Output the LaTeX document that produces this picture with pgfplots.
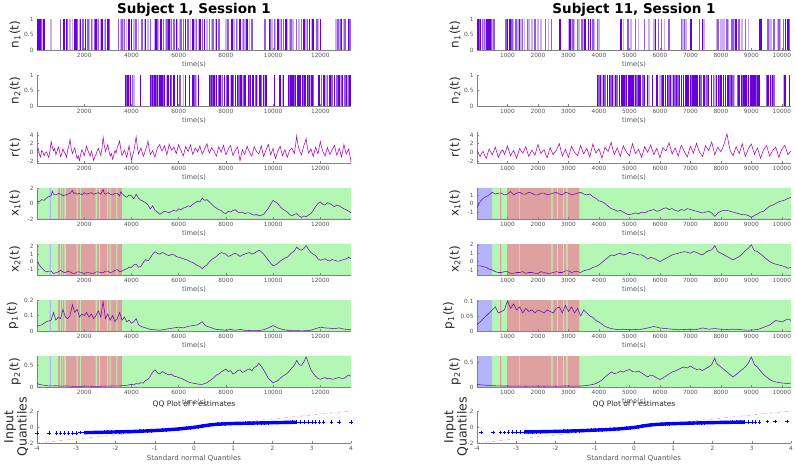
\documentclass[border=0pt]{standalone}
\usepackage{pgfplots}
\pgfplotsset{compat=1.18}
\usepackage{fontspec}
\setmainfont{DejaVu Sans}
\definecolor{bggreen}{RGB}{180,247,180}
\definecolor{bgred}{RGB}{223,160,160}
\definecolor{bgblue}{RGB}{180,180,250}
\definecolor{linepurple}{RGB}{105,15,175}
\definecolor{ndark}{RGB}{105,0,215}
\definecolor{nmid}{RGB}{150,90,225}
\definecolor{nlight}{RGB}{205,175,240}
\definecolor{rcol}{RGB}{175,0,185}
\definecolor{tickgray}{RGB}{85,85,85}
\definecolor{axgray}{RGB}{130,130,130}
\definecolor{labgray}{RGB}{40,40,40}
\pgfplotsset{
  base/.style={scale only axis, width=314pt, height=31pt, anchor=north west},
  shadeax/.style={base, hide axis, ymin=0, ymax=1},
  panel/.style={base, axis lines*=left, axis line style={draw=axgray,-},
    tick style={draw=axgray, line width=0.4pt}, tick align=inside, major tick length=2pt,
    tick label style={font=\fontsize{5.8}{7}\selectfont, text=tickgray},
    /pgf/number format/assume math mode=true, scaled ticks=false,
    xlabel={time(s)},
    xlabel style={font=\fontsize{6.7}{7}\selectfont, text=tickgray, at={(axis description cs:0.5,-0.27)}, anchor=north},
    ylabel style={font=\fontsize{12}{13}\selectfont, text=labgray, at={(axis description cs:-0.070,0.5)}, anchor=center},
    title style={font=\fontsize{13.5}{14}\selectfont\bfseries, at={(axis description cs:0.5,1)}, anchor=base, yshift=-1pt},
    every axis plot/.append style={line width=0.55pt}},
  L/.style={xmin=0, xmax=13300, xtick={2000,4000,6000,8000,10000,12000}, xticklabels={2000,4000,6000,8000,10000,12000}},
  R/.style={xmin=0, xmax=10300, xtick={1000,2000,3000,4000,5000,6000,7000,8000,9000,10000}, xticklabels={1000,2000,3000,4000,5000,6000,7000,8000,9000,10000}},
  nbar/.style={ycomb, line width=1.5pt},
  qq/.style={panel, height=32pt, xmin=-4, xmax=4, ymin=-2, ymax=2, xtick={-4,-3,-2,-1,0,1,2,3,4}, xticklabels={-4,-3,-2,-1,0,1,2,3,4}, ytick={-2,0,2}, yticklabels={-2,0,2}, xlabel={Standard normal Quantiles}, xlabel style={font=\fontsize{7}{8}\selectfont}, ylabel={Input\\Quantiles}, ylabel style={align=center, font=\fontsize{12.5}{11}\selectfont, at={(axis description cs:-0.066,0.5)}}, title={QQ Plot of r estimates}, title style={font=\fontsize{7.5}{8}\selectfont\mdseries, text=labgray, yshift=-0.5pt}},
}
\newcommand{\shadeL}[1]{%
\begin{axis}[shadeax, at={#1}, xmin=0, xmax=13300]
\addplot[fill=bggreen, draw=none, const plot] coordinates {(0,1)(13300,1)} \closedcycle;
\addplot[fill=bgred, draw=none, const plot] coordinates {(0,0)(900,1)(970,0)(1010,1)(1060,0)(1100,1)(1160,0)(1220,1)(1680,0)(1720,1)(1830,0)(1870,1)(2480,0)(2540,1)(2620,0)(2660,1)(2960,0)(3000,1)(3080,0)(3120,1)(3360,0)(3400,1)(3600,0)(13300,0)} \closedcycle;
\addplot[fill=bgblue, draw=none, const plot] coordinates {(0,0)(540,1)(590,0)(13300,0)} \closedcycle;
\end{axis}}
\newcommand{\shadeR}[1]{%
\begin{axis}[shadeax, at={#1}, xmin=0, xmax=10300]
\addplot[fill=bggreen, draw=none, const plot] coordinates {(0,1)(10300,1)} \closedcycle;
\addplot[fill=bgred, draw=none, const plot] coordinates {(0,0)(760,1)(800,0)(990,1)(1380,0)(1410,1)(2440,0)(2480,1)(2620,0)(2660,1)(2820,0)(2860,1)(2930,0)(2970,1)(3360,0)(10300,0)} \closedcycle;
\addplot[fill=bgblue, draw=none, const plot] coordinates {(0,0)(0,1)(500,0)(10300,0)} \closedcycle;
\end{axis}}
\begin{document}
\begin{tikzpicture}
\path[use as bounding box] (0pt,0pt) rectangle (795pt,-465pt);
% ================= LEFT COLUMN =================
\begin{axis}[panel, L, at={(37pt,-19pt)}, ymin=0, ymax=1, ytick={0,0.5,1}, yticklabels={0,0.5,1}, ylabel={n\textsubscript{1}(t)}, title={Subject 1, Session 1}]
\addplot[nbar, nlight] coordinates {(150,1)(250,1)(600,1)(1400,1)(1500,1)(1800,1)(2200,1)(2350,1)(2550,1)(2700,1)(2850,1)(3550,1)(3650,1)(3800,1)(4100,1)(4300,1)(4550,1)(4700,1)(5000,1)(5150,1)(5450,1)(5650,1)(5950,1)(6050,1)(6500,1)(6700,1)(6850,1)(7200,1)(7400,1)(7550,1)(8000,1)(8350,1)(8500,1)(8700,1)(8800,1)(9000,1)(9950,1)(10100,1)(10300,1)(10600,1)(10700,1)(10850,1)(11100,1)(11400,1)(11650,1)(11900,1)(12650,1)(12700,1)(12800,1)(13000,1)};
\addplot[nbar, nmid] coordinates {(80,1)(200,1)(1000,1)(1300,1)(1700,1)(1950,1)(2150,1)(2300,1)(2450,1)(2600,1)(2900,1)(3050,1)(3450,1)(3600,1)(3700,1)(4200,1)(4450,1)(4800,1)(5100,1)(5350,1)(5500,1)(5700,1)(5800,1)(6100,1)(6200,1)(6400,1)(6750,1)(7000,1)(7300,1)(7450,1)(7700,1)(8100,1)(8450,1)(8750,1)(9100,1)(9650,1)(9900,1)(10050,1)(10350,1)(10450,1)(10750,1)(11000,1)(11200,1)(11450,1)(11850,1)(12750,1)(12850,1)(13050,1)(13250,1)};
\addplot[nbar, ndark] coordinates {(50,1)(120,1)(300,1)(1150,1)(1250,1)(1600,1)(1650,1)(1850,1)(2050,1)(2500,1)(2750,1)(3000,1)(3900,1)(4000,1)(4600,1)(5050,1)(5250,1)(5600,1)(5900,1)(6300,1)(6600,1)(6900,1)(7100,1)(7600,1)(8250,1)(8600,1)(8900,1)(9850,1)(10200,1)(10550,1)(11300,1)(11550,1)(11700,1)(12000,1)(12900,1)(13200,1)};
\end{axis}
\begin{axis}[panel, L, at={(37pt,-75pt)}, ymin=0, ymax=1, ytick={0,0.5,1}, yticklabels={0,0.5,1}, ylabel={n\textsubscript{2}(t)}]
\addplot[nbar, nlight] coordinates {(3900,1)(4100,1)(5150,1)(5500,1)(6200,1)(6750,1)(7550,1)(7800,1)(8200,1)(8700,1)(9350,1)(9650,1)(10400,1)(11600,1)(12250,1)(12450,1)(12850,1)(13150,1)};
\addplot[nbar, nmid] coordinates {(3800,1)(4050,1)(4850,1)(4950,1)(5050,1)(5250,1)(5350,1)(5700,1)(6050,1)(6700,1)(7350,1)(7450,1)(7700,1)(7850,1)(8050,1)(8300,1)(8550,1)(8750,1)(9000,1)(9250,1)(9500,1)(10700,1)(10900,1)(11100,1)(11300,1)(11500,1)(11700,1)(12050,1)(12300,1)(12500,1)(12700,1)(12900,1)(13050,1)(13200,1)};
\addplot[nbar, ndark] coordinates {(3750,1)(3850,1)(3950,1)(4380,1)(4800,1)(4900,1)(5000,1)(5100,1)(5200,1)(5300,1)(5400,1)(5550,1)(5650,1)(5800,1)(5950,1)(6300,1)(6450,1)(6600,1)(6850,1)(7300,1)(7400,1)(7500,1)(7600,1)(7750,1)(7950,1)(8100,1)(8250,1)(8400,1)(8500,1)(8650,1)(8800,1)(8950,1)(9050,1)(9150,1)(9300,1)(9450,1)(9600,1)(9700,1)(10050,1)(10300,1)(10450,1)(10650,1)(10750,1)(10850,1)(10950,1)(11050,1)(11150,1)(11250,1)(11350,1)(11450,1)(11550,1)(11650,1)(11950,1)(12150,1)(12400,1)(12600,1)(12800,1)(12950,1)(13100,1)(13250,1)};
\end{axis}
\begin{axis}[panel, L, at={(37pt,-132pt)}, ymin=-2.5, ymax=4.7, ytick={-2,0,2,4}, yticklabels={-2,0,2,4}, ylabel={r(t)}]
\addplot[rcol] coordinates {(0,0.2)(50,0.9)(100,-0.5)(150,-1.1)(200,0.4)(250,0.0)(300,-0.8)(350,-0.2)(400,0.1)(450,-0.6)(500,-1.2)(550,0.4)(600,2.5)(650,1.2)(700,0.3)(750,0.9)(800,-0.6)(850,0.2)(900,1.2)(950,0.4)(1000,-1.0)(1050,-0.3)(1100,0.8)(1150,0.1)(1200,-0.4)(1250,-1.2)(1300,0.5)(1350,1.5)(1400,3.0)(1450,0.8)(1500,-0.3)(1550,0.4)(1600,1.0)(1650,-0.4)(1700,-1.5)(1750,-0.8)(1800,-1.9)(1850,-0.5)(1900,0.6)(1950,0.0)(2000,-0.8)(2050,0.3)(2100,1.4)(2150,0.5)(2200,-0.2)(2250,-0.9)(2300,0.3)(2350,-0.6)(2400,-1.9)(2450,-1.0)(2500,-0.5)(2550,0.3)(2600,0.9)(2650,0.1)(2700,-0.7)(2750,0.8)(2800,3.5)(2850,1.5)(2900,0.2)(2950,0.9)(3000,1.8)(3050,0.3)(3100,-0.9)(3150,-0.3)(3200,-1.6)(3250,-0.7)(3300,0.4)(3350,-0.2)(3400,1.2)(3450,1.8)(3500,2.6)(3550,0.7)(3600,-0.8)(3650,-0.2)(3700,0.5)(3750,-0.3)(3800,-1.2)(3850,0.2)(3900,1.5)(3950,-0.1)(4000,-1.8)(4050,-0.8)(4100,0.2)(4150,1.8)(4200,3.6)(4250,1.2)(4300,-0.4)(4350,0.3)(4400,1.0)(4450,0.1)(4500,-1.0)(4550,-0.3)(4600,0.6)(4650,1.4)(4700,2.6)(4750,0.9)(4800,-0.5)(4850,-0.1)(4900,0.4)(4950,-0.5)(5000,-1.1)(5050,0.0)(5100,1.0)(5150,1.3)(5200,1.8)(5250,0.8)(5300,0.3)(5350,0.9)(5400,1.5)(5450,0.4)(5500,-0.6)(5550,0.6)(5600,1.9)(5650,1.1)(5700,0.5)(5750,0.8)(5800,1.2)(5850,0.4)(5900,-0.3)(5950,0.7)(6000,1.8)(6050,1.0)(6100,0.4)(6150,-0.3)(6200,-0.8)(6250,0.3)(6300,1.4)(6350,0.7)(6400,0.2)(6450,0.9)(6500,1.7)(6550,0.5)(6600,-0.5)(6650,0.2)(6700,1.0)(6750,0.6)(6800,0.1)(6850,0.8)(6900,1.5)(6950,0.4)(7000,-0.4)(7050,0.1)(7100,0.8)(7150,1.4)(7200,2.0)(7250,0.7)(7300,-0.2)(7350,0.4)(7400,1.1)(7450,0.6)(7500,0.3)(7550,-0.4)(7600,-0.9)(7650,0.2)(7700,1.3)(7750,0.6)(7800,0.0)(7850,0.9)(7900,1.6)(7950,0.4)(8000,-0.6)(8050,0.0)(8100,0.7)(8150,1.2)(8200,1.5)(8250,0.3)(8300,-0.8)(8350,-0.1)(8400,0.4)(8450,0.9)(8500,1.2)(8550,-0.5)(8600,-2.0)(8650,-0.6)(8700,0.6)(8750,0.0)(8800,-0.5)(8850,0.5)(8900,1.4)(8950,0.6)(9000,0.1)(9050,-0.5)(9100,-0.9)(9150,0.2)(9200,1.3)(9250,0.7)(9300,0.2)(9350,-0.2)(9400,-0.4)(9450,0.6)(9500,1.5)(9550,0.2)(9600,-1.0)(9650,-0.2)(9700,0.5)(9750,1.2)(9800,1.8)(9850,0.5)(9900,-0.6)(9950,0.2)(10000,0.9)(10050,-0.4)(10100,-1.5)(10150,-0.6)(10200,0.3)(10250,0.8)(10300,1.4)(10350,0.2)(10400,-0.8)(10450,-0.1)(10500,0.6)(10550,-0.3)(10600,-1.2)(10650,-0.4)(10700,0.4)(10750,0.7)(10800,1.0)(10850,0.3)(10900,-0.3)(10950,1.6)(11000,3.8)(11050,1.8)(11100,0.7)(11150,0.0)(11200,-0.6)(11250,0.4)(11300,1.5)(11350,2.2)(11400,3.2)(11450,1.2)(11500,-0.2)(11550,0.3)(11600,0.8)(11650,-0.1)(11700,-1.0)(11750,0.1)(11800,1.2)(11850,0.4)(11900,-0.4)(11950,1.0)(12000,2.5)(12050,1.2)(12100,0.3)(12150,-0.3)(12200,-0.9)(12250,0.1)(12300,1.1)(12350,0.3)(12400,-0.5)(12450,0.0)(12500,0.6)(12550,1.0)(12600,1.6)(12650,0.4)(12700,-0.7)(12750,0.1)(12800,0.9)(12850,-0.1)(12900,-1.1)(12950,0.3)(13000,1.8)(13050,0.6)(13100,-0.4)(13150,0.2)(13200,0.7)(13250,-0.6)(13300,-2.2)};
\end{axis}
\shadeL{(37pt,-188pt)}
\begin{axis}[panel, L, at={(37pt,-188pt)}, ymin=-2, ymax=2, ytick={-2,0,2}, yticklabels={-2,0,2}, ylabel={x\textsubscript{1}(t)}]
\addplot[linepurple] coordinates {(0,0.3)(100,0.2)(200,0.5)(300,0.4)(400,0.7)(500,0.9)(600,1.0)(650,1.6)(700,1.2)(800,1.1)(900,1.3)(1000,1.2)(1100,1.0)(1200,1.1)(1300,1.2)(1400,1.3)(1500,1.7)(1550,1.3)(1600,1.4)(1700,1.2)(1800,1.3)(1900,1.1)(2000,1.4)(2100,1.2)(2200,1.3)(2300,1.4)(2400,1.2)(2500,1.3)(2600,1.4)(2700,1.2)(2800,1.8)(2850,1.3)(2900,1.2)(3000,1.4)(3100,1.2)(3200,1.1)(3300,1.3)(3400,1.3)(3500,1.0)(3550,1.5)(3600,1.3)(3700,1.0)(3800,0.8)(3900,1.1)(4000,1.0)(4100,0.6)(4200,1.2)(4300,0.7)(4400,0.4)(4500,0.3)(4600,0.1)(4700,-0.2)(4800,-0.7)(4900,-0.3)(5000,-0.9)(5100,-1.1)(5200,-1.4)(5300,-1.2)(5400,-1.0)(5500,-1.1)(5600,-1.2)(5700,-1.0)(5800,-0.9)(5900,-1.0)(6000,-0.7)(6100,-0.8)(6200,-0.6)(6300,-0.5)(6400,-0.3)(6500,-0.4)(6600,-0.1)(6700,0.1)(6800,0.3)(6900,0.2)(7000,0.7)(7100,0.4)(7200,0.5)(7300,0.2)(7400,-0.1)(7500,-0.4)(7600,-0.6)(7700,-0.8)(7800,-0.9)(7900,-1.2)(8000,-1.3)(8100,-1.0)(8200,-1.1)(8300,-0.9)(8400,-0.8)(8500,-1.1)(8600,-1.2)(8700,-1.1)(8800,-1.3)(8900,-1.2)(9000,-1.2)(9100,-1.4)(9200,-1.5)(9300,-1.4)(9400,-1.6)(9500,-1.5)(9600,-1.4)(9700,-1.0)(9800,-0.6)(9900,-0.1)(10000,0.4)(10100,0.2)(10200,0.0)(10300,-0.4)(10400,-0.7)(10500,-0.9)(10600,-1.1)(10700,-1.4)(10800,-1.6)(10900,-1.4)(11000,-1.3)(11100,-1.6)(11200,-1.8)(11300,-1.6)(11400,-1.7)(11500,-1.5)(11600,-1.3)(11700,-0.9)(11800,-0.4)(11900,0.0)(12000,0.2)(12100,-0.1)(12200,-0.2)(12300,0.1)(12400,0.0)(12500,-0.2)(12600,-0.4)(12700,-0.2)(12800,-0.3)(12900,-0.5)(13000,-0.7)(13100,-0.8)(13200,-1.0)(13300,-1.2)};
\end{axis}
\shadeL{(37pt,-244pt)}
\begin{axis}[panel, L, at={(37pt,-244pt)}, ymin=-1.7, ymax=2.3, ytick={-1,0,1,2}, yticklabels={-1,0,1,2}, ylabel={x\textsubscript{2}(t)}]
\addplot[linepurple] coordinates {(0,0.0)(100,-0.4)(200,-0.8)(300,-1.1)(400,-1.3)(500,-1.2)(600,-1.2)(700,-1.5)(800,-1.4)(900,-1.3)(1000,-1.1)(1100,-1.3)(1200,-1.4)(1300,-1.2)(1400,-1.3)(1500,-1.5)(1600,-1.5)(1700,-1.3)(1800,-1.3)(1900,-1.4)(2000,-1.5)(2100,-1.4)(2200,-1.4)(2300,-1.5)(2400,-1.5)(2500,-1.3)(2600,-1.3)(2700,-1.4)(2800,-1.4)(2900,-1.2)(3000,-1.2)(3100,-1.4)(3200,-1.3)(3300,-1.1)(3400,-1.0)(3500,-1.3)(3600,-1.2)(3700,-1.0)(3800,-0.9)(3900,-0.7)(4000,-0.7)(4100,-0.4)(4200,-0.3)(4300,-0.7)(4400,-0.6)(4500,-0.1)(4600,0.3)(4700,0.1)(4800,0.5)(4900,1.0)(5000,1.3)(5100,1.1)(5200,1.0)(5300,1.2)(5400,1.1)(5500,0.9)(5600,0.8)(5700,1.0)(5800,0.9)(5900,0.7)(6000,0.6)(6100,0.5)(6200,0.4)(6300,0.3)(6400,0.2)(6500,0.0)(6600,-0.1)(6700,-0.3)(6800,-0.5)(6900,-0.6)(7000,-0.9)(7100,-0.6)(7200,-0.4)(7300,0.0)(7400,0.3)(7500,0.5)(7600,0.7)(7700,1.0)(7800,1.2)(7900,1.1)(8000,1.0)(8100,0.7)(8200,0.8)(8300,1.0)(8400,1.1)(8500,0.9)(8600,0.7)(8700,0.9)(8800,1.0)(8900,1.1)(9000,1.2)(9100,1.0)(9200,1.1)(9300,1.3)(9400,1.5)(9500,1.3)(9600,1.0)(9700,0.6)(9800,0.2)(9900,-0.2)(10000,-0.5)(10100,-0.4)(10200,-0.2)(10300,0.1)(10400,0.3)(10500,0.5)(10600,0.6)(10700,0.9)(10800,1.2)(10900,1.4)(11000,1.9)(11100,1.6)(11200,1.5)(11300,1.7)(11400,2.1)(11500,1.6)(11600,1.2)(11700,1.0)(11800,0.8)(11900,0.4)(12000,0.2)(12100,0.3)(12200,0.4)(12300,0.2)(12400,0.1)(12500,0.3)(12600,0.2)(12700,0.1)(12800,0.1)(12900,0.2)(13000,0.3)(13100,0.4)(13200,0.6)(13300,0.4)};
\end{axis}
\shadeL{(37pt,-300pt)}
\begin{axis}[panel, L, at={(37pt,-300pt)}, ymin=0, ymax=0.2, ytick={0,0.1,0.2}, yticklabels={0,0.1,0.2}, ylabel={p\textsubscript{1}(t)}, ylabel style={at={(axis description cs:-0.078,0.5)}}]
\addplot[linepurple] coordinates {(0,0.03)(200,0.04)(400,0.06)(600,0.07)(700,0.12)(800,0.07)(900,0.09)(1000,0.08)(1100,0.14)(1200,0.09)(1300,0.08)(1400,0.10)(1500,0.17)(1600,0.12)(1700,0.14)(1800,0.09)(1900,0.11)(2000,0.10)(2100,0.12)(2200,0.09)(2300,0.11)(2400,0.08)(2500,0.10)(2600,0.13)(2700,0.09)(2800,0.19)(2900,0.08)(3000,0.11)(3100,0.07)(3200,0.10)(3300,0.06)(3400,0.08)(3500,0.12)(3600,0.07)(3700,0.09)(3800,0.06)(3900,0.07)(4000,0.05)(4100,0.06)(4200,0.08)(4300,0.04)(4400,0.03)(4500,0.025)(4600,0.02)(4700,0.015)(4800,0.01)(5000,0.008)(5200,0.005)(5400,0.01)(5600,0.015)(5800,0.02)(6000,0.025)(6200,0.02)(6400,0.03)(6600,0.035)(6800,0.04)(6900,0.05)(7000,0.06)(7100,0.04)(7200,0.03)(7400,0.02)(7600,0.01)(7800,0.008)(8000,0.005)(8200,0.01)(8400,0.005)(8600,0.01)(8800,0.005)(9000,0.003)(9200,0.002)(9400,0.003)(9600,0.008)(9800,0.02)(10000,0.035)(10200,0.02)(10400,0.01)(10600,0.005)(10800,0.002)(11000,0.003)(11200,0.001)(11400,0.002)(11600,0.005)(11800,0.015)(12000,0.025)(12200,0.02)(12400,0.018)(12600,0.015)(12800,0.02)(13000,0.012)(13200,0.01)(13300,0.008)};
\end{axis}
\shadeL{(37pt,-356pt)}
\begin{axis}[panel, L, at={(37pt,-356pt)}, ymin=0, ymax=0.72, ytick={0,0.5}, yticklabels={0,0.5}, ylabel={p\textsubscript{2}(t)}]
\addplot[linepurple] coordinates {(0,0.08)(100,0.06)(200,0.05)(300,0.04)(400,0.03)(600,0.025)(800,0.03)(1000,0.02)(1200,0.025)(1400,0.02)(1600,0.015)(1800,0.015)(2000,0.02)(2200,0.02)(2400,0.015)(2600,0.015)(2800,0.02)(3000,0.02)(3200,0.025)(3400,0.025)(3600,0.03)(3800,0.04)(4000,0.06)(4100,0.05)(4200,0.08)(4300,0.07)(4400,0.1)(4500,0.09)(4600,0.15)(4700,0.18)(4800,0.25)(4900,0.35)(5000,0.4)(5100,0.33)(5200,0.3)(5300,0.36)(5400,0.33)(5500,0.30)(5600,0.28)(5700,0.3)(5800,0.25)(5900,0.24)(6000,0.22)(6100,0.2)(6200,0.18)(6300,0.15)(6400,0.12)(6500,0.1)(6600,0.09)(6700,0.08)(6800,0.07)(6900,0.06)(7000,0.06)(7100,0.08)(7200,0.1)(7300,0.14)(7400,0.18)(7500,0.22)(7600,0.28)(7700,0.3)(7800,0.35)(7900,0.38)(8000,0.42)(8100,0.36)(8200,0.38)(8300,0.3)(8400,0.33)(8500,0.38)(8600,0.40)(8700,0.34)(8800,0.36)(8900,0.4)(9000,0.42)(9100,0.38)(9200,0.45)(9300,0.48)(9400,0.55)(9500,0.48)(9600,0.40)(9700,0.3)(9800,0.2)(9900,0.15)(10000,0.1)(10100,0.12)(10200,0.15)(10300,0.2)(10400,0.25)(10500,0.28)(10600,0.32)(10700,0.38)(10800,0.45)(10900,0.5)(11000,0.62)(11100,0.52)(11200,0.5)(11300,0.58)(11400,0.7)(11500,0.55)(11600,0.4)(11700,0.32)(11800,0.25)(11900,0.2)(12000,0.18)(12100,0.2)(12200,0.22)(12300,0.19)(12400,0.2)(12500,0.18)(12600,0.19)(12700,0.21)(12800,0.22)(12900,0.2)(13000,0.2)(13100,0.24)(13200,0.28)(13300,0.25)};
\end{axis}
\begin{axis}[qq, at={(37pt,-411pt)}]
\addplot[red!55, dashdotted, line width=0.4pt] coordinates {(-4,-2)(4,2)};
\addplot[blue, line width=3.4pt] coordinates {(-2.8,-0.70)(-2.4,-0.67)(-2.0,-0.62)(-1.6,-0.57)(-1.2,-0.49)(-0.8,-0.39)(-0.4,-0.25)(-0.2,-0.15)(0.0,-0.04)(0.2,0.11)(0.4,0.26)(0.6,0.35)(0.8,0.40)(1.0,0.44)(1.4,0.48)(1.8,0.52)(2.2,0.56)(2.6,0.60)};
\addplot[blue, only marks, mark=+, mark size=1.8pt, mark options={line width=0.4pt}] coordinates {(-4.0,-0.75)(-3.7,-0.75)(-3.5,-0.74)(-3.4,-0.74)(-3.3,-0.73)(-3.2,-0.73)(-3.1,-0.72)(-3.0,-0.72)(-2.9,-0.71)(-2.8,-0.70)(-2.7,-0.70)(-2.6,-0.69)(-2.5,-0.68)(-2.4,-0.67)(-2.3,-0.66)(-2.2,-0.65)(-2.1,-0.64)(-2.0,-0.62)(-1.9,-0.61)(-1.8,-0.60)(-1.7,-0.58)(-1.6,-0.57)(-1.5,-0.55)(-1.4,-0.53)(-1.3,-0.51)(-1.2,-0.49)(-1.1,-0.47)(-1.0,-0.45)(-0.9,-0.42)(-0.8,-0.39)(-0.7,-0.36)(-0.6,-0.33)(-0.5,-0.29)(-0.4,-0.25)(-0.3,-0.20)(-0.2,-0.15)(-0.1,-0.10)(0.0,-0.04)(0.1,0.03)(0.2,0.11)(0.3,0.19)(0.4,0.26)(0.5,0.31)(0.6,0.35)(0.7,0.38)(0.8,0.40)(0.9,0.42)(1.0,0.44)(1.1,0.45)(1.2,0.46)(1.3,0.47)(1.4,0.48)(1.5,0.49)(1.6,0.50)(1.7,0.51)(1.8,0.52)(1.9,0.53)(2.0,0.54)(2.1,0.55)(2.2,0.56)(2.3,0.57)(2.4,0.58)(2.5,0.59)(2.6,0.60)(2.7,0.61)(2.8,0.62)(2.9,0.62)(3.0,0.63)(3.1,0.63)(3.2,0.64)(3.3,0.64)(3.5,0.65)(3.7,0.65)(4.0,0.66)};
\end{axis}
% ================= RIGHT COLUMN =================
\begin{axis}[panel, R, at={(477pt,-19pt)}, ymin=0, ymax=1, ytick={0,0.5,1}, yticklabels={0,0.5,1}, ylabel={n\textsubscript{1}(t)}, title={Subject 11, Session 1}]
\addplot[nbar, nlight] coordinates {(90,1)(210,1)(300,1)(520,1)(1200,1)(1350,1)(1450,1)(1550,1)(1700,1)(1800,1)(2000,1)(2100,1)(2350,1)(3000,1)(3100,1)(3200,1)(3350,1)(3500,1)(3850,1)(4000,1)(4800,1)(5050,1)(5300,1)(5650,1)(5800,1)(6150,1)(6750,1)(6850,1)(7450,1)(7850,1)(8000,1)(8050,1)(8100,1)(8250,1)(8450,1)(8700,1)(8900,1)(9600,1)(9650,1)(9850,1)(9950,1)};
\addplot[nbar, nmid] coordinates {(60,1)(180,1)(250,1)(470,1)(560,1)(950,1)(1150,1)(1280,1)(1500,1)(1650,1)(1900,1)(2250,1)(2450,1)(3150,1)(3300,1)(3450,1)(3800,1)(3950,1)(4950,1)(5200,1)(5500,1)(5950,1)(6050,1)(6300,1)(6700,1)(6800,1)(7300,1)(7900,1)(8200,1)(8350,1)(8400,1)(8600,1)(8800,1)(9550,1)(9750,1)(9900,1)(10050,1)(10250,1)};
\addplot[nbar, ndark] coordinates {(30,1)(120,1)(330,1)(380,1)(420,1)(1000,1)(1080,1)(1400,1)(2720,1)(3050,1)(3550,1)(3650,1)(3720,1)(4720,1)(5860,1)(7020,1)(7400,1)(8500,1)(9280,1)(9320,1)(10120,1)(10200,1)};
\end{axis}
\begin{axis}[panel, R, at={(477pt,-75pt)}, ymin=0, ymax=1, ytick={0,0.5,1}, yticklabels={0,0.5,1}, ylabel={n\textsubscript{2}(t)}]
\addplot[nbar, nlight] coordinates {(4100,1)(4500,1)(5150,1)(5650,1)(6000,1)(6400,1)(6900,1)(7500,1)(7800,1)(8450,1)(8850,1)(9100,1)(9650,1)(10050,1)};
\addplot[nbar, nmid] coordinates {(4000,1)(4200,1)(4400,1)(4600,1)(4850,1)(5000,1)(5250,1)(5450,1)(6050,1)(6300,1)(6500,1)(6600,1)(7050,1)(7350,1)(7550,1)(7750,1)(7950,1)(8300,1)(8400,1)(8550,1)(8700,1)(9000,1)(9150,1)(9500,1)(9750,1)};
\addplot[nbar, ndark] coordinates {(3950,1)(4050,1)(4150,1)(4280,1)(4350,1)(4450,1)(4550,1)(4680,1)(4750,1)(4820,1)(4900,1)(4980,1)(5050,1)(5120,1)(5200,1)(5300,1)(5350,1)(5500,1)(5600,1)(5750,1)(5900,1)(6100,1)(6180,1)(6250,1)(6350,1)(6450,1)(6550,1)(6650,1)(6700,1)(6780,1)(6850,1)(6920,1)(7000,1)(7080,1)(7150,1)(7220,1)(7300,1)(7450,1)(7600,1)(7700,1)(7850,1)(7920,1)(8000,1)(8080,1)(8150,1)(8230,1)(8350,1)(8600,1)(8680,1)(8750,1)(8820,1)(8900,1)(8980,1)(9050,1)(9120,1)(9200,1)(9250,1)(9550,1)(9620,1)(9700,1)(10100,1)(10250,1)};
\end{axis}
\begin{axis}[panel, R, at={(477pt,-132pt)}, ymin=-2.5, ymax=4.7, ytick={-2,0,2,4}, yticklabels={-2,0,2,4}, ylabel={r(t)}]
\addplot[rcol] coordinates {(0,0.5)(50,-0.3)(100,-1.0)(150,-0.2)(200,0.2)(250,-0.6)(300,-1.5)(350,-0.3)(400,0.8)(450,0.1)(500,-0.6)(550,0.3)(600,1.2)(650,0.0)(700,-1.2)(750,-0.4)(800,0.3)(850,0.5)(900,-0.5)(950,0.4)(1000,1.5)(1050,0.3)(1100,-0.8)(1150,-0.1)(1200,0.4)(1250,-0.5)(1300,-1.4)(1350,-0.2)(1400,0.9)(1450,0.3)(1500,-0.2)(1550,0.5)(1600,1.3)(1650,0.1)(1700,-1.0)(1750,-0.2)(1800,0.5)(1850,-0.1)(1900,-0.7)(1950,0.6)(2000,1.8)(2050,0.6)(2100,-0.3)(2150,0.2)(2200,0.6)(2250,-0.4)(2300,-1.3)(2350,-0.1)(2400,1.1)(2450,0.2)(2500,-0.6)(2550,0.0)(2600,0.4)(2650,1.2)(2700,2.0)(2750,0.5)(2800,-0.9)(2850,-0.1)(2900,0.7)(2950,-0.3)(3000,-1.2)(3050,0.1)(3100,1.4)(3150,0.6)(3200,0.0)(3250,-0.4)(3300,-0.8)(3350,0.4)(3400,1.6)(3450,0.5)(3500,-0.4)(3550,0.3)(3600,0.9)(3650,-0.1)(3700,-1.1)(3750,0.4)(3800,1.9)(3850,0.8)(3900,-0.2)(3950,0.3)(4000,0.8)(4050,-0.3)(4100,-1.4)(4150,-0.1)(4200,1.2)(4250,0.6)(4300,0.2)(4350,1.2)(4400,2.3)(4450,0.8)(4500,-0.5)(4550,0.2)(4600,1.0)(4650,0.0)(4700,-1.0)(4750,0.3)(4800,1.5)(4850,0.7)(4900,0.1)(4950,-0.4)(5000,-0.8)(5050,0.6)(5100,2.0)(5150,0.8)(5200,-0.3)(5250,0.2)(5300,0.7)(5350,-0.3)(5400,-1.2)(5450,0.0)(5500,1.3)(5550,0.6)(5600,0.0)(5650,0.9)(5700,1.7)(5750,0.5)(5800,-0.6)(5850,0.2)(5900,0.9)(5950,-0.2)(6000,-1.3)(6050,-0.1)(6100,1.1)(6150,0.6)(6200,0.3)(6250,1.3)(6300,2.2)(6350,0.9)(6400,-0.4)(6450,0.3)(6500,1.0)(6550,0.1)(6600,-0.9)(6650,0.4)(6700,1.6)(6750,0.9)(6800,0.2)(6850,-0.5)(6900,-1.1)(6950,0.2)(7000,1.4)(7050,0.6)(7100,-0.2)(7150,0.9)(7200,2.1)(7250,1.0)(7300,0.0)(7350,-0.5)(7400,-1.0)(7450,0.3)(7500,1.5)(7550,0.9)(7600,0.4)(7650,1.4)(7700,2.4)(7750,0.9)(7800,-0.6)(7850,0.3)(7900,1.2)(7950,0.6)(8000,0.1)(8050,0.9)(8100,1.8)(8150,3.0)(8200,4.3)(8250,2.2)(8300,0.5)(8350,-0.2)(8400,-0.8)(8450,0.3)(8500,1.3)(8550,0.5)(8600,-0.3)(8650,0.8)(8700,2.0)(8750,0.5)(8800,-1.0)(8850,-0.1)(8900,0.8)(8950,1.4)(9000,1.9)(9050,0.7)(9100,-0.5)(9150,0.3)(9200,1.0)(9250,-0.2)(9300,-1.4)(9350,-0.4)(9400,0.6)(9450,1.1)(9500,1.5)(9550,0.3)(9600,-0.9)(9650,-0.2)(9700,0.4)(9750,0.8)(9800,1.2)(9850,0.0)(9900,-1.2)(9950,-0.2)(10000,0.7)(10050,1.2)(10100,1.6)(10150,0.5)(10200,-0.6)(10250,-0.1)(10300,0.3)};
\end{axis}
\shadeR{(477pt,-188pt)}
\begin{axis}[panel, R, at={(477pt,-188pt)}, ymin=-1.8, ymax=1.8, ytick={-1,0,1}, yticklabels={-1,0,1}, ylabel={x\textsubscript{1}(t)}]
\addplot[linepurple] coordinates {(0,-0.5)(100,0.2)(200,0.6)(300,0.8)(400,1.0)(500,1.3)(600,1.1)(700,1.2)(800,1.2)(900,1.0)(1000,1.1)(1100,1.4)(1200,1.0)(1300,1.2)(1400,1.3)(1500,1.1)(1600,1.1)(1700,1.3)(1800,1.2)(1900,1.0)(2000,1.0)(2100,1.2)(2200,1.2)(2300,1.0)(2400,1.1)(2500,1.2)(2600,1.3)(2700,1.1)(2800,1.0)(2900,1.3)(3000,1.2)(3100,1.0)(3200,1.1)(3300,1.2)(3400,1.3)(3500,1.1)(3600,1.0)(3700,1.1)(3800,0.8)(3900,0.6)(4000,0.3)(4100,0.2)(4200,0.0)(4300,-0.3)(4400,-0.6)(4500,-0.7)(4600,-0.9)(4700,-0.8)(4800,-1.0)(4900,-1.2)(5000,-1.3)(5100,-1.2)(5200,-1.1)(5300,-1.2)(5400,-1.0)(5500,-1.1)(5600,-0.9)(5700,-0.8)(5800,-0.7)(5900,-0.9)(6000,-0.8)(6100,-0.6)(6200,-0.5)(6300,-0.7)(6400,-0.6)(6500,-0.8)(6600,-0.9)(6700,-0.7)(6800,-0.8)(6900,-0.6)(7000,-0.7)(7100,-0.8)(7200,-0.9)(7300,-1.0)(7400,-1.1)(7500,-1.0)(7600,-0.9)(7700,-1.1)(7800,-1.5)(7900,-1.1)(8000,-0.9)(8100,-0.8)(8200,-0.8)(8300,-0.9)(8400,-1.0)(8500,-1.1)(8600,-1.2)(8700,-1.3)(8800,-1.3)(8900,-1.4)(9000,-1.6)(9100,-1.4)(9200,-1.2)(9300,-1.0)(9400,-0.9)(9500,-0.6)(9600,-0.3)(9700,-0.2)(9800,0.0)(9900,0.2)(10000,0.3)(10100,0.4)(10200,0.6)(10300,0.7)};
\end{axis}
\shadeR{(477pt,-244pt)}
\begin{axis}[panel, R, at={(477pt,-244pt)}, ymin=-1.6, ymax=2.1, ytick={-1,0,1,2}, yticklabels={-1,0,1,2}, ylabel={x\textsubscript{2}(t)}]
\addplot[linepurple] coordinates {(0,-0.5)(100,-0.5)(200,-0.6)(300,-0.7)(400,-0.9)(500,-1.0)(600,-1.2)(700,-1.3)(800,-1.3)(900,-1.2)(1000,-1.2)(1100,-1.4)(1200,-1.4)(1300,-1.3)(1400,-1.3)(1500,-1.2)(1600,-1.4)(1700,-1.3)(1800,-1.3)(1900,-1.4)(2000,-1.4)(2100,-1.2)(2200,-1.3)(2300,-1.4)(2400,-1.4)(2500,-1.3)(2600,-1.2)(2700,-1.3)(2800,-1.3)(2900,-1.1)(3000,-1.1)(3100,-1.3)(3200,-1.2)(3300,-1.2)(3400,-1.3)(3500,-1.1)(3600,-1.0)(3700,-0.9)(3800,-0.7)(3900,-0.6)(4000,-0.4)(4100,-0.1)(4200,0.2)(4300,0.5)(4400,0.8)(4500,0.7)(4600,0.9)(4700,1.0)(4800,0.8)(4900,0.9)(5000,1.1)(5100,1.0)(5200,0.9)(5300,0.8)(5400,0.8)(5500,0.6)(5600,0.3)(5700,0.5)(5800,0.4)(5900,0.2)(6000,0.0)(6100,0.2)(6200,0.4)(6300,0.6)(6400,0.8)(6500,0.9)(6600,1.0)(6700,1.1)(6800,1.2)(6900,1.1)(7000,1.0)(7100,1.2)(7200,1.1)(7300,0.9)(7400,0.8)(7500,1.1)(7600,1.3)(7700,1.4)(7800,1.9)(7900,1.2)(8000,1.0)(8100,0.8)(8200,0.6)(8300,0.4)(8400,0.2)(8500,0.4)(8600,0.6)(8700,0.9)(8800,1.3)(8900,1.6)(9000,2.0)(9100,1.3)(9200,1.2)(9300,0.9)(9400,0.6)(9500,0.3)(9600,0.0)(9700,-0.2)(9800,-0.3)(9900,-0.4)(10000,-0.5)(10100,-0.6)(10200,-0.8)(10300,-0.7)};
\end{axis}
\shadeR{(477pt,-300pt)}
\begin{axis}[panel, R, at={(477pt,-300pt)}, ymin=0, ymax=0.103, ytick={0,0.05,0.1}, yticklabels={0,0.05,0.1}, ylabel={p\textsubscript{1}(t)}, ylabel style={at={(axis description cs:-0.090,0.5)}}]
\addplot[linepurple] coordinates {(0,0.02)(100,0.03)(200,0.04)(300,0.05)(400,0.06)(500,0.07)(600,0.08)(700,0.06)(800,0.065)(900,0.07)(1000,0.1)(1100,0.075)(1200,0.09)(1300,0.07)(1400,0.08)(1500,0.06)(1600,0.075)(1700,0.065)(1800,0.07)(1900,0.06)(2000,0.07)(2100,0.065)(2200,0.06)(2300,0.07)(2400,0.065)(2500,0.06)(2600,0.075)(2700,0.08)(2800,0.06)(2900,0.085)(3000,0.065)(3100,0.08)(3200,0.06)(3300,0.075)(3400,0.05)(3500,0.07)(3600,0.06)(3700,0.05)(3800,0.045)(3900,0.035)(4000,0.03)(4200,0.015)(4400,0.008)(4600,0.005)(4800,0.006)(5000,0.004)(5200,0.005)(5400,0.006)(5600,0.01)(5800,0.015)(6000,0.01)(6200,0.008)(6400,0.006)(6600,0.004)(6800,0.005)(7000,0.006)(7200,0.005)(7400,0.01)(7600,0.006)(7800,0.008)(8000,0.006)(8200,0.005)(8400,0.006)(8600,0.005)(8800,0.003)(9000,0.003)(9200,0.005)(9400,0.012)(9600,0.02)(9800,0.035)(10000,0.03)(10200,0.04)(10300,0.035)};
\end{axis}
\shadeR{(477pt,-356pt)}
\begin{axis}[panel, R, at={(477pt,-356pt)}, ymin=0, ymax=0.62, ytick={0,0.5}, yticklabels={0,0.5}, ylabel={p\textsubscript{2}(t)}]
\addplot[linepurple] coordinates {(0,0.05)(100,0.045)(200,0.04)(300,0.035)(400,0.03)(500,0.025)(600,0.025)(800,0.02)(1000,0.02)(1200,0.018)(1400,0.02)(1600,0.015)(1800,0.018)(2000,0.02)(2200,0.015)(2400,0.018)(2600,0.015)(2800,0.02)(3000,0.02)(3200,0.018)(3400,0.02)(3600,0.03)(3800,0.05)(3900,0.07)(4000,0.1)(4100,0.14)(4200,0.2)(4300,0.25)(4400,0.3)(4500,0.27)(4600,0.28)(4700,0.32)(4800,0.3)(4900,0.33)(5000,0.35)(5100,0.31)(5200,0.3)(5300,0.32)(5400,0.28)(5500,0.24)(5600,0.2)(5700,0.24)(5800,0.22)(5900,0.18)(6000,0.15)(6100,0.18)(6200,0.22)(6300,0.26)(6400,0.3)(6500,0.32)(6600,0.35)(6700,0.38)(6800,0.4)(6900,0.38)(7000,0.42)(7100,0.38)(7200,0.35)(7300,0.36)(7400,0.33)(7500,0.37)(7600,0.4)(7700,0.45)(7800,0.58)(7850,0.48)(7900,0.45)(8000,0.4)(8100,0.35)(8200,0.3)(8300,0.25)(8400,0.2)(8500,0.25)(8600,0.3)(8700,0.35)(8800,0.4)(8900,0.48)(9000,0.6)(9100,0.45)(9200,0.4)(9300,0.32)(9400,0.25)(9500,0.2)(9600,0.15)(9700,0.12)(9800,0.1)(9900,0.09)(10000,0.08)(10100,0.075)(10200,0.07)(10300,0.08)};
\end{axis}
\begin{axis}[qq, at={(477pt,-411pt)}]
\addplot[red!55, dashdotted, line width=0.4pt] coordinates {(-4,-2)(4,2)};
\addplot[blue, line width=3.4pt] coordinates {(-2.8,-0.62)(-2.4,-0.59)(-2.0,-0.55)(-1.6,-0.50)(-1.2,-0.43)(-0.8,-0.35)(-0.4,-0.24)(-0.2,-0.16)(0.0,-0.06)(0.2,0.10)(0.4,0.25)(0.6,0.33)(0.8,0.38)(1.0,0.42)(1.4,0.48)(1.8,0.53)(2.2,0.57)(2.6,0.60)(2.8,0.62)};
\addplot[blue, only marks, mark=+, mark size=1.8pt, mark options={line width=0.4pt}] coordinates {(-3.9,-0.70)(-3.6,-0.69)(-3.4,-0.68)(-3.3,-0.67)(-3.2,-0.66)(-3.1,-0.65)(-3.0,-0.64)(-2.9,-0.63)(-2.8,-0.62)(-2.7,-0.62)(-2.6,-0.61)(-2.5,-0.60)(-2.4,-0.59)(-2.3,-0.58)(-2.2,-0.57)(-2.1,-0.56)(-2.0,-0.55)(-1.9,-0.54)(-1.8,-0.53)(-1.7,-0.51)(-1.6,-0.50)(-1.5,-0.48)(-1.4,-0.47)(-1.3,-0.45)(-1.2,-0.43)(-1.1,-0.41)(-1.0,-0.39)(-0.9,-0.37)(-0.8,-0.35)(-0.7,-0.32)(-0.6,-0.30)(-0.5,-0.27)(-0.4,-0.24)(-0.3,-0.20)(-0.2,-0.16)(-0.1,-0.11)(0.0,-0.06)(0.1,0.02)(0.2,0.10)(0.3,0.18)(0.4,0.25)(0.5,0.30)(0.6,0.33)(0.7,0.36)(0.8,0.38)(0.9,0.40)(1.0,0.42)(1.1,0.43)(1.2,0.45)(1.3,0.46)(1.4,0.48)(1.5,0.49)(1.6,0.50)(1.7,0.51)(1.8,0.53)(1.9,0.54)(2.0,0.55)(2.1,0.56)(2.2,0.57)(2.3,0.58)(2.4,0.58)(2.5,0.59)(2.6,0.60)(2.7,0.61)(2.8,0.62)(2.9,0.63)(3.0,0.64)(3.1,0.65)(3.2,0.66)(3.4,0.67)(3.6,0.68)(3.9,0.70)};
\end{axis}
\end{tikzpicture}
\end{document}
